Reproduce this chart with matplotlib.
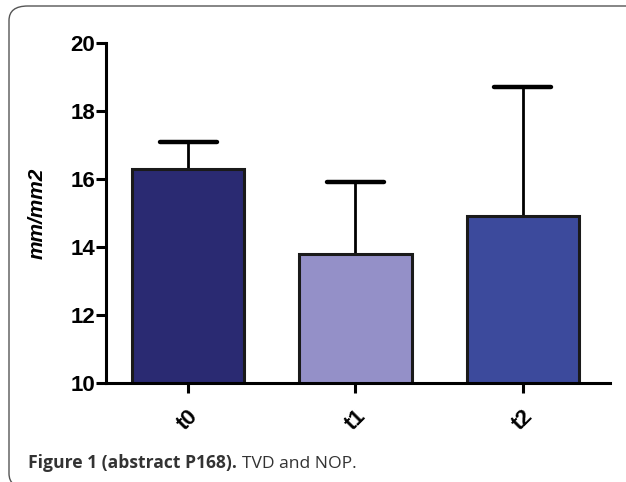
import matplotlib.pyplot as plt
from matplotlib.patches import FancyBboxPatch

# data
categories = ['t0', 't1', 't2']
means = [16.3, 13.8, 14.9]
upper_err = [0.8, 2.1, 3.8]
colors = ['#2a2a72', '#9490c8', '#3c4a9c']

fig = plt.figure(figsize=(6.26, 4.82), dpi=100)

# rounded frame around the figure (bottom and right edges run off the image)
frame = FancyBboxPatch((9 / 626, -6 / 482), 640 / 626, 482 / 482,
                       boxstyle='round,pad=0,rounding_size=0.03',
                       transform=fig.transFigure, facecolor='none',
                       edgecolor='#555555', linewidth=1.0, clip_on=False)
fig.patches.append(frame)

ax = fig.add_axes([106 / 626, 1 - 383 / 482, 504 / 626, 340 / 482])

x = list(range(len(categories)))
tops = [m + e for m, e in zip(means, upper_err)]
ax.bar(x, means, width=0.67, color=colors, edgecolor='#1a1a1a',
       linewidth=2.2, zorder=2)
ax.vlines(x, means, tops, color='black', linewidth=2.0, zorder=1)
ax.hlines(tops, [i - 0.17 for i in x], [i + 0.17 for i in x],
          color='black', linewidth=3.2, capstyle='round', zorder=1)

ax.set_ylim(10, 20)
ax.set_xlim(-0.49, 2.52)
ax.set_yticks([10, 12, 14, 16, 18, 20])
ax.set_xticks(x)
ax.set_xticklabels(categories, rotation=45, ha='center', fontsize=16,
                   fontweight='bold', family='Liberation Sans')
for lab in ax.get_yticklabels():
    lab.set_fontsize(16)
    lab.set_fontweight('bold')
    lab.set_family('Liberation Sans')

ax.spines['top'].set_visible(False)
ax.spines['right'].set_visible(False)
ax.spines['left'].set_linewidth(2.2)
ax.spines['bottom'].set_linewidth(2.2)
ax.tick_params(axis='both', width=2.2, length=7, pad=1)
ax.tick_params(axis='x', pad=9)

ax.set_ylabel('mm/mm2', fontsize=15, fontweight='bold', fontstyle='italic',
              family='Liberation Sans', labelpad=17)

fig.text(28 / 626, 1 - 468 / 482, 'Figure 1 (abstract P168).', fontsize=12.6,
         fontweight='bold', color='#333333', family='Open Sans', va='baseline')
fig.text(242 / 626, 1 - 468 / 482, 'TVD and NOP.', fontsize=12.6,
         color='#333333', family='Open Sans', va='baseline')

fig.savefig('out.png', dpi=100)
